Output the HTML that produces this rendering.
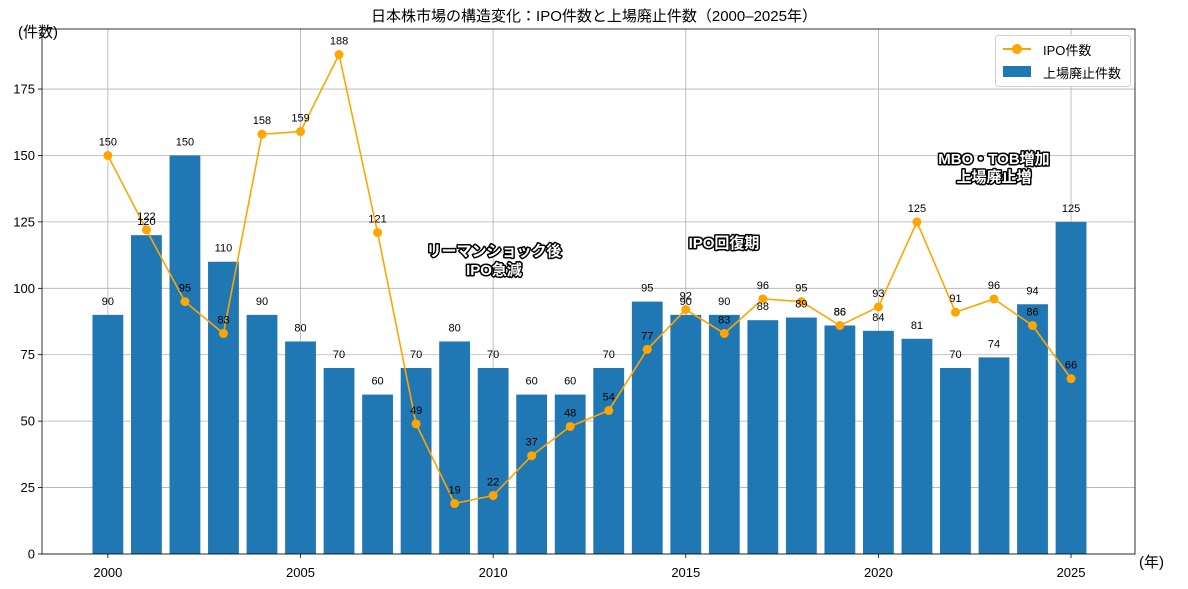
<!DOCTYPE html>
<html><head><meta charset="utf-8"><style>
body{margin:0;background:#fff;}
svg{display:block;font-family:"Liberation Sans","Noto Sans CJK JP",sans-serif;}
.ann{font-size:15px;font-weight:bold;fill:#fff;stroke:#000;stroke-width:3px;paint-order:stroke;stroke-linejoin:round;}
</style></head><body>
<svg id="chart" width="1188" height="589" viewBox="0 0 1188 589"></svg>
<script>
const years=[2000,2001,2002,2003,2004,2005,2006,2007,2008,2009,2010,2011,2012,2013,2014,2015,2016,2017,2018,2019,2020,2021,2022,2023,2024,2025];
const ipoCounts=[150,122,95,83,158,159,188,121,49,19,22,37,48,54,77,92,83,96,95,86,93,125,91,96,86,66];
const delistCounts=[90,120,150,110,90,80,70,60,70,80,70,60,60,70,95,90,90,88,89,86,84,81,70,74,94,125];
const yTicks=[0,25,50,75,100,125,150,175];
const xTicks=[2000,2005,2010,2015,2020,2025];
const L=42,R=1135,T=29,B=554;
const xmin=1998.29,xmax=2026.66,ymin=0,ymax=197.6;
const X=v=>L+(v-xmin)/(xmax-xmin)*(R-L);
const Y=v=>B-(v-ymin)/(ymax-ymin)*(B-T);
const svg=document.getElementById('chart');
const NS='http://www.w3.org/2000/svg';
function mk(tag,attrs,parent){const e=document.createElementNS(NS,tag);for(const k in attrs)e.setAttribute(k,attrs[k]);(parent||svg).appendChild(e);return e;}
function txt(x,y,s,attrs){const e=mk('text',Object.assign({x:x,y:y},attrs));e.textContent=s;return e;}
const grid=mk('g',{});


yTicks.forEach(v=>{mk('line',{x1:L,x2:R,y1:Y(v),y2:Y(v),stroke:'#b0b0b0','stroke-width':0.8},grid);});
xTicks.forEach(v=>{mk('line',{x1:X(v),x2:X(v),y1:T,y2:B,stroke:'#b0b0b0','stroke-width':0.8},grid);});
const bw=(X(1)-X(0))*0.8;
years.forEach((yr,i)=>{
  const b=mk('rect',{x:X(yr)-bw/2,y:Y(delistCounts[i]),width:bw,height:B-Y(delistCounts[i]),fill:'#1f77b4'});
  
  
});
const pts=years.map((yr,i)=>X(yr)+','+Y(ipoCounts[i])).join(' ');
const pl=mk('polyline',{points:pts,fill:'none',stroke:'#ffa500','stroke-width':1.6});


years.forEach((yr,i)=>{
  const c=mk('circle',{cx:X(yr),cy:Y(ipoCounts[i]),r:4.5,fill:'#ffa500'});
  
  
});
years.forEach((yr,i)=>{
  const t=txt(X(yr),Y(delistCounts[i])-10,String(delistCounts[i]),{'font-size':11,'text-anchor':'middle',fill:'#000'});
  
  
  const u=txt(X(yr),Y(ipoCounts[i])-10,String(ipoCounts[i]),{'font-size':11,'text-anchor':'middle',fill:'#000'});
  
  
});
const fr=mk('rect',{x:L,y:T,width:R-L,height:B-T,fill:'none',stroke:'#000','stroke-width':0.8});


yTicks.forEach(v=>{
  mk('line',{x1:L-4,x2:L,y1:Y(v),y2:Y(v),stroke:'#000','stroke-width':0.8});
  const t=txt(L-7,Y(v)+4.5,String(v),{'font-size':13,'text-anchor':'end'});
  
  
});
xTicks.forEach(v=>{
  mk('line',{x1:X(v),x2:X(v),y1:B,y2:B+4,stroke:'#000','stroke-width':0.8});
  const t=txt(X(v),B+23,String(v),{'font-size':13,'text-anchor':'middle'});
  
  
});
</script>
<script>
const s2=document.getElementById('chart');
function t2(x,y,s,name,attrs){const e=document.createElementNS('http://www.w3.org/2000/svg','text');e.setAttribute('x',x);e.setAttribute('y',y);for(const k in attrs)e.setAttribute(k,attrs[k]);e.textContent=s;


s2.appendChild(e);return e;}
t2(594,21,'日本株市場の構造変化：IPO件数と上場廃止件数（2000–2025年）','chart-title',{'font-size':15,'text-anchor':'middle'});
t2(18,37,'(件数)','y-axis-title',{'font-size':15});
t2(1139,567,'(年)','x-axis-title',{'font-size':15});
t2(494,256,'リーマンショック後','annotation-lehman',{'class':'ann','text-anchor':'middle'});
t2(494,275,'IPO急減','annotation-lehman-2',{'class':'ann','text-anchor':'middle'});
t2(724,248,'IPO回復期','annotation-recovery',{'class':'ann','text-anchor':'middle'});
t2(994,164,'MBO・TOB増加','annotation-mbo',{'class':'ann','text-anchor':'middle'});
t2(994,182,'上場廃止増','annotation-mbo-2',{'class':'ann','text-anchor':'middle'});
</script>
<div style="position:absolute;left:995px;top:35px;width:134px;height:50px;border:1px solid #d0d0d0;border-radius:3px;background:rgba(255,255,255,0.85);font-family:'Liberation Sans','Noto Sans CJK JP',sans-serif;font-size:13px;">
 <div style="position:absolute;left:7px;top:4px;height:18px;width:125px;">
  <span style="position:absolute;left:0;top:8px;width:28px;height:2px;background:#ffa500"></span>
  <span style="position:absolute;left:9px;top:4px;width:10px;height:10px;border-radius:50%;background:#ffa500"></span>
  <span style="position:absolute;left:40px;top:0;">IPO件数</span>
 </div>
 <div style="position:absolute;left:7px;top:27px;height:18px;width:125px;">
  <span style="position:absolute;left:0;top:3px;width:28px;height:11px;background:#1f77b4"></span>
  <span style="position:absolute;left:40px;top:0;">上場廃止件数</span>
 </div>
</div>
</body></html>
